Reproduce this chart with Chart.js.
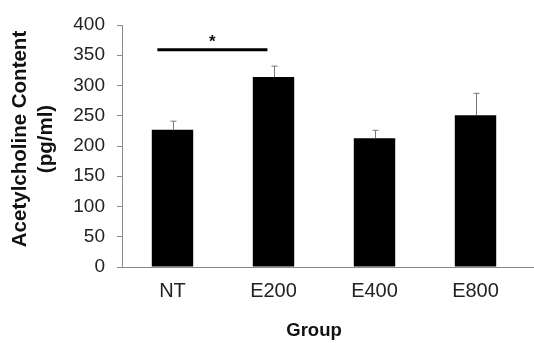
<!DOCTYPE html>
<html>
<head>
<meta charset="utf-8">
<script src="https://cdn.jsdelivr.net/npm/chart.js@4"></script>
<style>
  html, body { margin: 0; padding: 0; background: #fff; }
  #wrap { width: 534px; height: 343px; }
</style>
</head>
<body>
<div id="wrap"><canvas id="chart" width="534" height="343"></canvas></div>
<script>
// acetylcholine content per group
const groups = ['NT', 'E200', 'E400', 'E800'];
const means = [227, 314, 213, 251];
const errors = [14, 18, 13, 36];
const yTicks = [0, 50, 100, 150, 200, 250, 300, 350, 400];

// significance bar NT vs E200
const sigPair = [0, 1];
const sigLevel = 359;
const sigLabel = '*';

const xTitle = 'Group';
const yTitle = ['Acetylcholine Content', '(pg/ml)'];

const FONT = "'Liberation Sans', Arial, sans-serif";
const AXIS_GREY = '#8a8a8a';

// upward-only error bars with small caps
const errorBars = {
  id: 'errorBars',
  afterDatasetsDraw(chart) {
    const { ctx, scales: { y } } = chart;
    const meta = chart.getDatasetMeta(0);
    ctx.save();
    ctx.strokeStyle = '#777';
    ctx.lineWidth = 1;
    meta.data.forEach((bar, i) => {
      const x = Math.round(bar.x) + 0.5;
      const top = y.getPixelForValue(means[i] + errors[i]);
      ctx.beginPath();
      ctx.moveTo(x, bar.y);
      ctx.lineTo(x, top);
      ctx.moveTo(x - 3, top);
      ctx.lineTo(x + 3, top);
      ctx.stroke();
    });
    ctx.restore();
  },
};

// "*" bracket above the first two bars
const sigBracket = {
  id: 'sigBracket',
  afterDatasetsDraw(chart) {
    const { ctx, scales: { x, y } } = chart;
    const catW = x.getPixelForValue(1) - x.getPixelForValue(0);
    const x0 = x.getPixelForValue(sigPair[0]) - catW * 0.15;
    const x1 = x.getPixelForValue(sigPair[1]) - catW * 0.06;
    const yy = y.getPixelForValue(sigLevel);
    ctx.save();
    ctx.strokeStyle = '#000';
    ctx.lineWidth = 3;
    ctx.beginPath();
    ctx.moveTo(x0, yy);
    ctx.lineTo(x1, yy);
    ctx.stroke();
    ctx.fillStyle = '#111';
    ctx.font = `bold 17px ${FONT}`;
    ctx.textAlign = 'center';
    ctx.textBaseline = 'alphabetic';
    ctx.fillText(sigLabel, (x0 + x1) / 2, yy - 3);
    ctx.restore();
  },
};

// axis titles, placed a little off the chart.js default spots
// (also runs the x axis line out to the right edge like the original)
const axisTitles = {
  id: 'axisTitles',
  afterDraw(chart) {
    const { ctx, chartArea: a } = chart;
    ctx.save();
    ctx.strokeStyle = AXIS_GREY;
    ctx.lineWidth = 1;
    ctx.beginPath();
    ctx.moveTo(a.right, Math.round(a.bottom) + 0.5);
    ctx.lineTo(chart.width, Math.round(a.bottom) + 0.5);
    ctx.stroke();

    ctx.fillStyle = '#111';
    ctx.textAlign = 'center';
    ctx.textBaseline = 'middle';
    ctx.font = `bold 18.5px ${FONT}`;
    ctx.fillText(xTitle, (a.left + a.right) / 2 - 10, 331);

    ctx.font = `bold 20.5px ${FONT}`;
    ctx.translate(0, (a.top + a.bottom) / 2 - 7);
    ctx.rotate(-Math.PI / 2);
    yTitle.forEach((line, i) => ctx.fillText(line, 0, 20 + i * 26));
    ctx.restore();
  },
};

new Chart(document.getElementById('chart'), {
  type: 'bar',
  data: {
    labels: groups,
    datasets: [{
      data: means,
      backgroundColor: '#000',
      borderWidth: 0,
      barPercentage: 0.41,
      categoryPercentage: 1,
    }],
  },
  options: {
    responsive: false,
    animation: false,
    layout: { padding: { top: 25, right: 8, left: 0, bottom: 0 } },
    plugins: {
      legend: { display: false },
      tooltip: { enabled: false },
    },
    scales: {
      x: {
        grid: { display: false, drawTicks: false },
        border: { color: AXIS_GREY, width: 1 },
        ticks: { font: { family: FONT, size: 20 }, color: '#222', padding: 12 },
        afterFit: (scale) => { scale.height = 76; },
      },
      y: {
        min: 0,
        max: 400,
        afterBuildTicks: (scale) => { scale.ticks = yTicks.map(v => ({ value: v })); },
        grid: { drawOnChartArea: false, tickLength: 5, color: AXIS_GREY },
        border: { color: AXIS_GREY, width: 1 },
        ticks: { font: { family: FONT, size: 19 }, color: '#222', padding: 12 },
        afterFit: (scale) => { scale.width = 122; },
      },
    },
  },
  plugins: [errorBars, sigBracket, axisTitles],
});
</script>
</body>
</html>
